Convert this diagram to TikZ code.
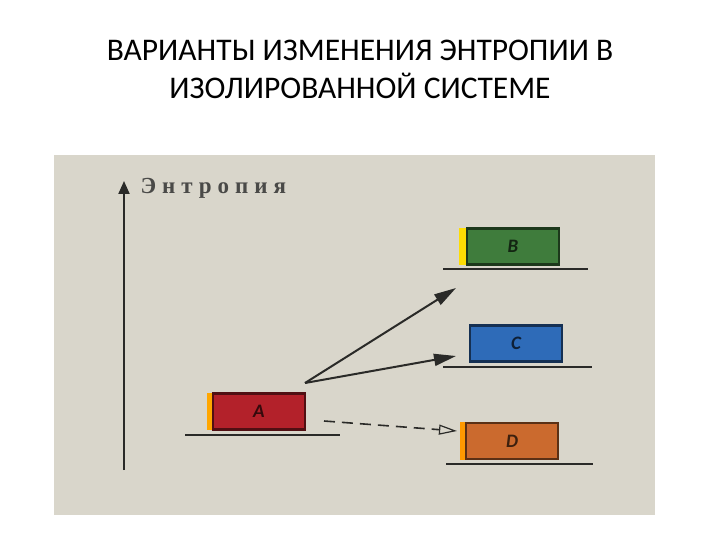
\documentclass[tikz,border=0pt]{standalone}
\usepackage{fontspec}
\setmainfont{Carlito}
\newfontfamily\scanfont[LetterSpace=26]{Liberation Serif}
\usetikzlibrary{arrows.meta}
\definecolor{paper}{HTML}{D9D6CB}
\definecolor{ink}{HTML}{2A2A28}
\definecolor{boxA}{HTML}{B3212A}
\definecolor{boxB}{HTML}{3F7C3C}
\definecolor{boxC}{HTML}{2E6BB8}
\definecolor{boxD}{HTML}{CB6A2E}
\tikzset{
  statebox/.style={draw=#1!45!black, line width=2.2pt, fill=#1, minimum width=92pt, minimum height=36pt, inner sep=0pt, font=\itshape\bfseries\fontsize{19}{19}\selectfont, text=#1!30!black},
  level/.style={draw=ink, line width=1.8pt},
  strip/.style={fill=#1},
  change/.style={draw=ink, line width=2pt, -{Triangle[length=22pt,width=12pt]}},
  nochange/.style={draw=ink, line width=1.6pt, dash pattern=on 11pt off 7pt, -{Triangle[open,length=18pt,width=10pt,line width=1.2pt]}}
}
\begin{document}
\begin{tikzpicture}[x=1pt,y=-1pt]
\useasboundingbox (0,0) rectangle (720,540);
\fill[white] (0,0) rectangle (720,540);
\node[font=\fontsize{31.5}{38}\selectfont, align=center, text=black] (title) at (360,69) {ВАРИАНТЫ ИЗМЕНЕНИЯ ЭНТРОПИИ В\\ИЗОЛИРОВАННОЙ СИСТЕМЕ};
\fill[paper] (54,155) rectangle (655,515);
% axis
\coordinate (axbot) at (124,470);
\coordinate (axtop) at (124,181);
\draw[ink, line width=2pt, -{Triangle[length=13pt,width=11pt]}] (axbot) -- (axtop);
\node[anchor=west, font=\scanfont\bfseries\fontsize{23}{23}\selectfont, text=ink!85] (axlabel) at (137,188) {Энтропия};
% boxes
\fill[strip=orange!70!yellow] (207,393) rectangle (213,430);
\node[statebox=boxA] (A) at (259,411.5) {A};
\fill[strip=yellow!80!orange] (459,228) rectangle (466,265);
\node[statebox=boxB] (B) at (513,246.5) {B};
\node[statebox=boxC] (C) at (516,343.5) {C};
\fill[strip=orange!80!yellow] (460,422) rectangle (466,460);
\node[statebox=boxD] (D) at (512,441) {D};
% levels
\draw[level] (185,435) -- (340,435);
\draw[level] (443,269) -- (588,269);
\draw[level] (443,367) -- (592,367);
\draw[level] (446,464) -- (593,464);
% arrows
\coordinate (start) at (305,383);
\coordinate (tipB) at (456,288);
\coordinate (tipC) at (456,356);
\coordinate (dstart) at (324,421);
\coordinate (tipD) at (457,431);
\draw[change] (start) -- (tipB);
\draw[change] (start) -- (tipC);
\draw[nochange] (dstart) -- (tipD);
\end{tikzpicture}
\end{document}
